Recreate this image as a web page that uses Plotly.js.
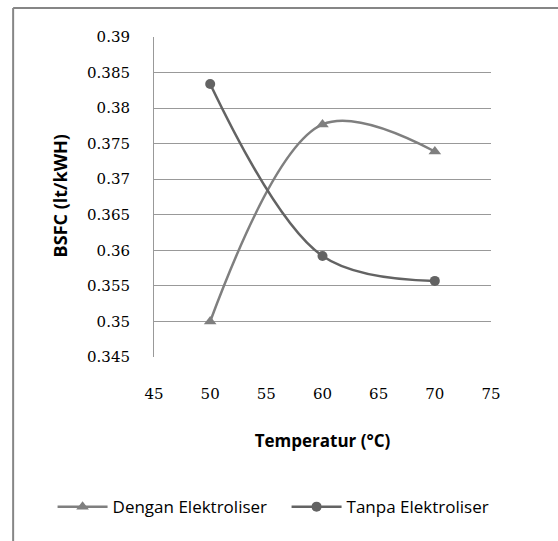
<!DOCTYPE html>
<html>
<head>
<meta charset="utf-8">
<script src="https://cdn.plot.ly/plotly-3.0.1.min.js"></script>
<style>
html,body{margin:0;padding:0;background:#fff;}
#chart{width:558px;height:541px;}
</style>
</head>
<body>
<div id="chart"></div>
<script>
const temperatures = [50, 60, 70];
const denganElektroliser = [0.350, 0.3777, 0.3739];
const tanpaElektroliser = [0.3834, 0.3592, 0.3557];
const seriesNames = ['Dengan Elektroliser', 'Tanpa Elektroliser'];
const yTicks = [0.345, 0.35, 0.355, 0.36, 0.365, 0.37, 0.375, 0.38, 0.385, 0.39];
const yTickLabels = ['0.345', '0.35', '0.355', '0.36', '0.365', '0.37', '0.375', '0.38', '0.385', '0.39'];
const xTicks = [45, 50, 55, 60, 65, 70, 75];
const xTitle = 'Temperatur (°C)';
const yTitle = 'BSFC (lt/kWH)';

const tickFont = {family: 'DejaVu Serif, Liberation Serif, serif', size: 15, color: '#000'};
const titleFont = {family: 'Open Sans, Liberation Sans, sans-serif', size: 17, color: '#000', weight: 'bold'};

const traces = [
  {
    x: temperatures, y: denganElektroliser, name: seriesNames[0],
    type: 'scatter', mode: 'lines+markers',
    line: {color: '#7f7f7f', width: 2.5, shape: 'spline', smoothing: 1},
    marker: {symbol: 'triangle-up', size: 11, color: '#7f7f7f'}
  },
  {
    x: temperatures, y: tanpaElektroliser, name: seriesNames[1],
    type: 'scatter', mode: 'lines+markers',
    line: {color: '#636363', width: 2.5, shape: 'spline', smoothing: 1},
    marker: {symbol: 'circle', size: 10, color: '#636363'}
  }
];

const layout = {
  width: 558, height: 541,
  margin: {l: 154, r: 67, t: 37, b: 184},
  paper_bgcolor: '#fff', plot_bgcolor: '#fff',
  showlegend: true,
  legend: {
    orientation: 'h',
    x: -0.301, xanchor: 'left', y: -0.469, yanchor: 'middle',
    font: {family: 'Open Sans, Liberation Sans, sans-serif', size: 17, color: '#000'},
    traceorder: 'normal', itemwidth: 50, entrywidth: 169
  },
  xaxis: {
    range: [45, 75], tickvals: xTicks, ticktext: xTicks.map(String),
    showgrid: false, zeroline: false, showline: false, ticks: '',
    tickfont: tickFont, ticklabelstandoff: 26,
    title: {text: xTitle, font: titleFont, standoff: 33},
    fixedrange: true
  },
  yaxis: {
    range: [0.345, 0.39], tickvals: yTicks, ticktext: yTickLabels,
    showgrid: true, gridcolor: '#999999', gridwidth: 1,
    zeroline: false, showline: true, linecolor: '#999999', linewidth: 1, ticks: '',
    tickfont: tickFont, ticklabelstandoff: 20,
    fixedrange: true
  },
  annotations: [
    {text: yTitle, xref: 'paper', yref: 'paper', x: -0.279, y: 0.505, xanchor: 'center', yanchor: 'middle',
     textangle: -90, showarrow: false,
     font: {family: 'Open Sans, Liberation Sans, sans-serif', size: 18, color: '#000', weight: 'bold'}}
  ],
  shapes: [
    {type: 'line', xref: 'paper', yref: 'paper', x0: -0.418, x1: 1.3, y0: 1.0906, y1: 1.0906, line: {color: '#868686', width: 2}},
    {type: 'line', xref: 'paper', yref: 'paper', x0: -0.418, x1: -0.418, y0: 1.0906, y1: -0.7, line: {color: '#868686', width: 2}}
  ]
};

Plotly.newPlot('chart', traces, layout, {displayModeBar: false, staticPlot: true});
</script>
</body>
</html>
